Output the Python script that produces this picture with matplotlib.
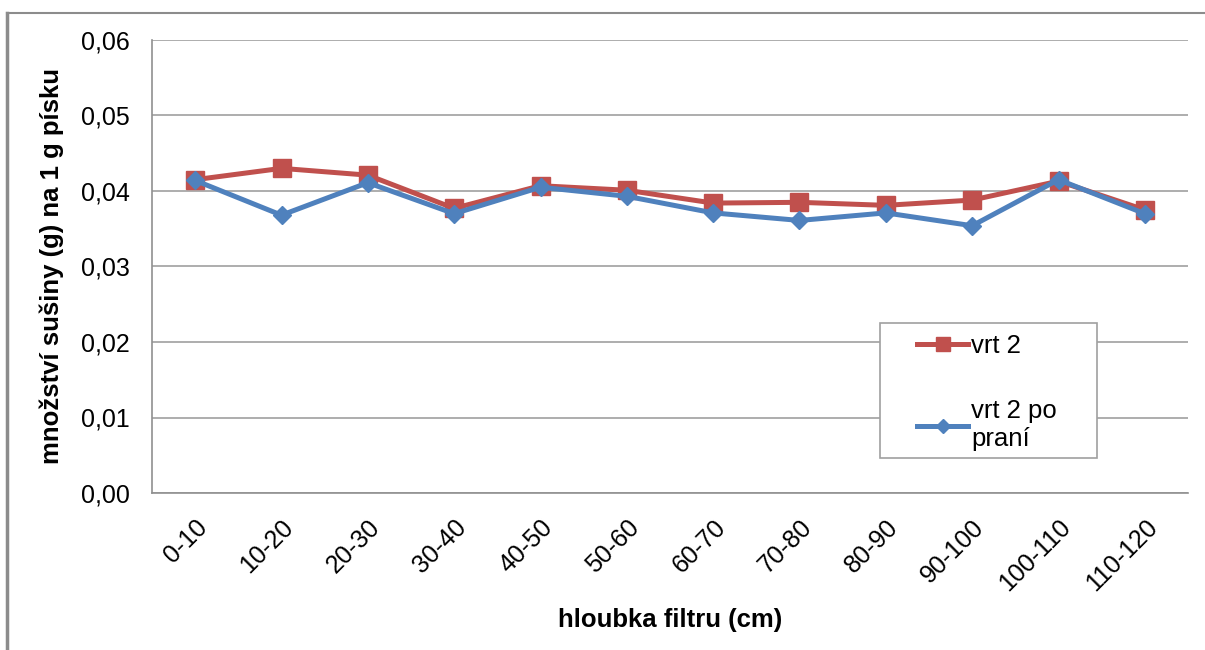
import matplotlib.pyplot as plt
from matplotlib.lines import Line2D
from matplotlib.patches import Rectangle
from matplotlib.ticker import FuncFormatter

plt.rcParams['font.family'] = ['Liberation Sans', 'DejaVu Sans']

hloubka = ['0-10', '10-20', '20-30', '30-40', '40-50', '50-60',
           '60-70', '70-80', '80-90', '90-100', '100-110', '110-120']
vrt2 = [0.0415, 0.0430, 0.0421, 0.0377, 0.0407, 0.0401,
        0.0384, 0.0385, 0.0381, 0.0388, 0.0413, 0.0375]
vrt2_po_prani = [0.0414, 0.0368, 0.0411, 0.0370, 0.0405, 0.0393,
                 0.0371, 0.0361, 0.0371, 0.0354, 0.0415, 0.0370]

W, H = 1205, 650
fig = plt.figure(figsize=(W / 100, H / 100), dpi=100)
ax = fig.add_axes([152/W, 1 - 493/H, (1188-152)/W, (493-40)/H])

x = range(len(hloubka))
ax.plot(x, vrt2, color='#c0504d', lw=3.6, marker='s', ms=13, label='vrt 2', zorder=3)
ax.plot(x, vrt2_po_prani, color='#4f81bd', lw=3.6, marker='D', ms=9.5,
        label='vrt 2 po\npraní', zorder=4)

ax.set_xlim(-0.5, len(hloubka) - 0.5)
ax.set_ylim(0, 0.06)
ax.set_yticks([0, 0.01, 0.02, 0.03, 0.04, 0.05, 0.06])
ax.yaxis.set_major_formatter(FuncFormatter(lambda v, p: f'{v:.2f}'.replace('.', ',')))
ax.set_xticks(list(x))
ax.set_xticklabels(hloubka, rotation=45, ha='right', rotation_mode='anchor')
ax.tick_params(axis='both', length=0, labelsize=18, colors='black')
ax.tick_params(axis='x', pad=16)
ax.tick_params(axis='y', pad=16)
ax.grid(axis='y', color='#a0a0a0', lw=1.2)
ax.set_axisbelow(True)
for s in ['top', 'right']:
    ax.spines[s].set_visible(False)
for s in ['left', 'bottom']:
    ax.spines[s].set_color('#909090')
    ax.spines[s].set_linewidth(1.2)

ax.set_xlabel('hloubka filtru (cm)', fontsize=18.5, fontweight='bold', labelpad=9)
ax.set_ylabel('množství sušiny (g) na 1 g písku', fontsize=18.5, fontweight='bold', labelpad=12)

# legend box drawn separately so padding can differ per side
fig.add_artist(Rectangle((880/W, 1 - 458/H), (1097-880)/W, (458-323)/H,
                         facecolor='white', edgecolor='#a0a0a0', lw=1.2, zorder=5))
leg = fig.legend(loc='upper left', bbox_to_anchor=(917/W, 1 - 334/H),
                 fontsize=18.5, frameon=False, labelspacing=1.6, markerscale=0.75,
                 handlelength=2.0, handletextpad=0.1, borderpad=0, borderaxespad=0)
leg.set_zorder(6)

# outer chart frame
fig.add_artist(Line2D([7/W, 7/W], [0, 1 - 13/H], color='#8c8c8c', lw=2.5))
fig.add_artist(Line2D([7/W, 1], [1 - 13/H, 1 - 13/H], color='#8c8c8c', lw=1.5))

fig.savefig('out.png', dpi=100)
